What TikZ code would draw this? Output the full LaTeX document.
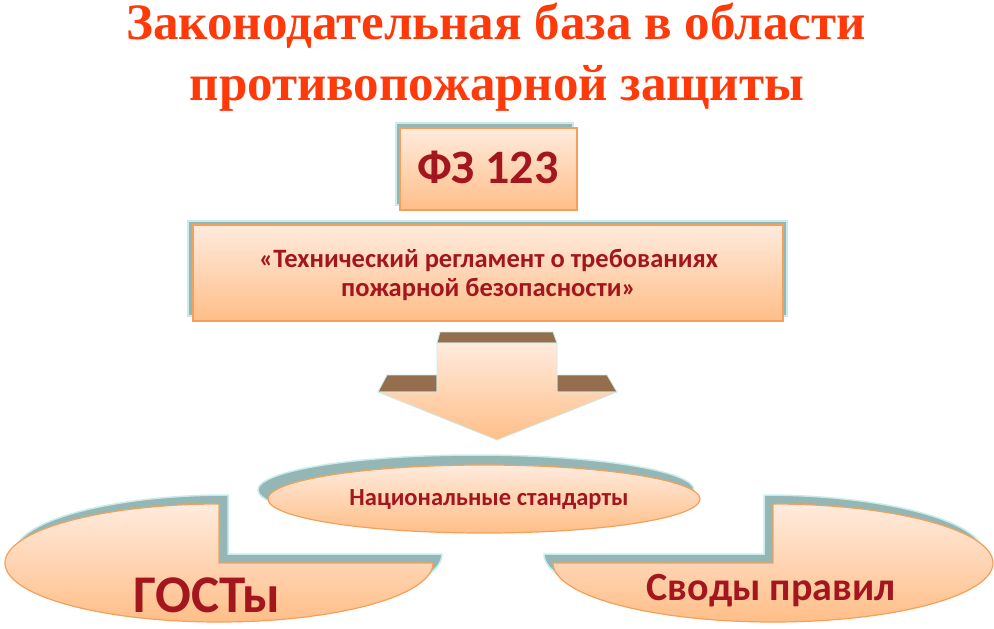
\documentclass[tikz,border=0pt]{standalone}
\usepackage{fontspec}
\setmainfont{Liberation Serif}
\newfontfamily\calfont{Carlito}
\definecolor{ttl}{HTML}{FF3A0A}
\definecolor{txt}{HTML}{A3161E}
\definecolor{peachT}{HTML}{FFEBDD}
\definecolor{peachB}{HTML}{FFBE88}
\definecolor{edgeor}{HTML}{F5A05A}
\definecolor{shd}{HTML}{94B7B6}
\definecolor{shdl}{HTML}{C8ECEC}
\definecolor{brownface}{HTML}{946E4D}
\tikzset{
  panel/.style={top color=peachT, bottom color=peachB, draw=edgeor, line width=1.2pt},
  shadowfill/.style={fill=shd, draw=shdl, line width=1.5pt},
  lbl/.style={text=txt, inner sep=0pt, anchor=base},
  ttlstyle/.style={text=ttl, inner sep=0pt, anchor=base, text height=34pt, text depth=10pt,
    font=\bfseries\fontsize{51}{51}\selectfont},
}
\newcommand\lblfont[1]{\calfont\bfseries\fontsize{#1}{#1}\selectfont}
\begin{document}
\begin{tikzpicture}[x=1pt,y=-1pt]
\useasboundingbox (0,0) rectangle (994,629);
% title
\node[ttlstyle] (t1) at (496,39) {Законодательная база в области};
\node[ttlstyle] (t2) at (497,100) {противопожарной защиты};
% FZ box
\draw[shadowfill] (396,123) rectangle (573,205);
\draw[panel] (400,128) rectangle (577,210);
\node[lbl, font=\lblfont{48}] (fz) at (488,183) {ФЗ 123};
% regulation box
\draw[shadowfill] (188,221) rectangle (787,316);
\draw[panel] (193,225) rectangle (783,321);
\node[lbl, font=\lblfont{26.5}] (reg1) at (488.5,267) {«Технический регламент о требованиях};
\node[lbl, font=\lblfont{26.5}] (reg2) at (488.5,296) {пожарной безопасности»};
% arrow
\fill[brownface, draw=shdl, line width=0.8pt] (440,332) -- (553,332) -- (557,343) -- (437,343) -- cycle;
\fill[brownface, draw=shdl, line width=0.8pt] (387,375) -- (437,375) -- (437,392) -- (378,392) -- cycle;
\fill[brownface, draw=shdl, line width=0.8pt] (557,375) -- (607,375) -- (617,392) -- (557,392) -- cycle;
\draw[top color=peachT, bottom color=peachB, draw=shdl, line width=0.8pt]
  (437,343) -- (557,343) -- (557,392) -- (617,392) -- (497,440) -- (378,392) -- (437,392) -- cycle;
% national standards
\draw[shadowfill] (476,490) ellipse [x radius=218, y radius=35];
\draw[panel] (484,499) ellipse [x radius=216, y radius=34];
\node[lbl, font=\lblfont{24.5}] (nat) at (489,505) {Национальные стандарты};
% GOST
\draw[shadowfill] (228,554) -- (228,495) arc[start angle=270, end angle=0, x radius=214, y radius=59] -- cycle;
\draw[panel] (219,563) -- (219,504) arc[start angle=270, end angle=0, x radius=214, y radius=59] -- cycle;
\node[lbl, font=\lblfont{53}] (gost) at (207,612) {ГОСТы};
% SP
\draw[shadowfill] (764,554) -- (764,495) arc[start angle=-90, end angle=180, x radius=220, y radius=59] -- cycle;
\draw[panel] (773,563) -- (773,504) arc[start angle=-90, end angle=180, x radius=220, y radius=59] -- cycle;
\node[lbl, font=\lblfont{40}] (sp) at (771,600) {Своды правил};
\end{tikzpicture}
\end{document}
